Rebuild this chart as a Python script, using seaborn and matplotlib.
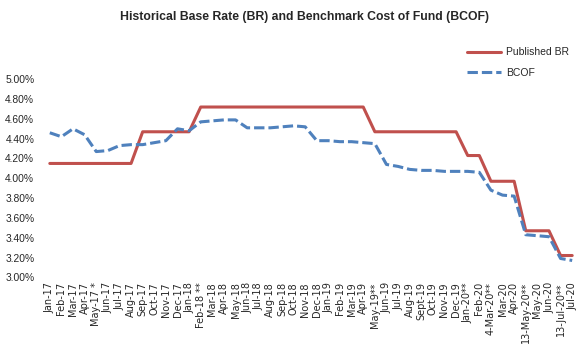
import numpy as np
import pandas as pd
import matplotlib
matplotlib.use("Agg")
import matplotlib.pyplot as plt
import seaborn as sns
from matplotlib.ticker import FuncFormatter

months = ["Jan-17", "Feb-17", "Mar-17", "Apr-17", "May-17 *", "Jun-17", "Jul-17",
          "Aug-17", "Sep-17", "Oct-17", "Nov-17", "Dec-17", "Jan-18", "Feb-18 **",
          "Mar-18", "Apr-18", "May-18", "Jun-18", "Jul-18", "Aug-18", "Sep-18",
          "Oct-18", "Nov-18", "Dec-18", "Jan-19", "Feb-19", "Mar-19", "Apr-19",
          "May-19**", "Jun-19", "Jul-19", "Aug-19", "Sept-19", "Oct-19", "Nov-19",
          "Dec-19", "Jan-20**", "Feb-20", "4-Mar-20**", "Mar-20", "Apr-20",
          "13-May-20**", "May-20", "Jun-20", "13-Jul-20**", "Jul-20"]

published_br = [4.15, 4.15, 4.15, 4.15, 4.15, 4.15, 4.15, 4.15,
                4.47, 4.47, 4.47, 4.47, 4.47,
                4.72, 4.72, 4.72, 4.72, 4.72, 4.72, 4.72, 4.72, 4.72, 4.72,
                4.72, 4.72, 4.72, 4.72, 4.72,
                4.47, 4.47, 4.47, 4.47, 4.47, 4.47, 4.47, 4.47,
                4.23, 4.23,
                3.97, 3.97, 3.97,
                3.47, 3.47, 3.47,
                3.22, 3.22]

bcof = [4.46, 4.42, 4.50, 4.44, 4.27, 4.28, 4.33, 4.34, 4.34, 4.36, 4.38,
        4.50, 4.48, 4.57, 4.58, 4.59, 4.59, 4.51, 4.51, 4.51, 4.52, 4.53,
        4.52, 4.38, 4.38, 4.37, 4.37, 4.36, 4.35, 4.14, 4.12, 4.09, 4.08,
        4.08, 4.07, 4.07, 4.07, 4.06, 3.88, 3.83, 3.82, 3.43, 3.42, 3.41,
        3.19, 3.17]

series_names = ["Published BR", "BCOF"]
yticks = np.arange(3.0, 5.001, 0.2)

df = pd.DataFrame({
    "pos": list(range(len(months))) * 2,
    "rate": published_br + bcof,
    "series": [series_names[0]] * len(months) + [series_names[1]] * len(months),
})

sns.set_style("white")
plt.rcParams["font.family"] = ["Liberation Sans", "DejaVu Sans"]

fig = plt.figure(figsize=(5.8, 3.48), dpi=100)
ax = fig.add_axes([44 / 580, 1 - 277.3 / 348, 534 / 580, 198 / 348])

sns.lineplot(data=df, x="pos", y="rate", hue="series", style="series",
             hue_order=series_names, style_order=series_names,
             palette={"Published BR": "#C0504D", "BCOF": "#4F81BD"},
             dashes={"Published BR": "", "BCOF": (3.4, 1.3)},
             linewidth=2.2, ax=ax, legend=True)

ax.set_xlim(-0.5, len(months) - 0.5)
ax.set_ylim(3.0, 5.0)
ax.set_yticks(yticks)
ax.yaxis.set_major_formatter(FuncFormatter(lambda v, _: f"{v:.2f}%"))
ax.set_xticks(range(len(months)))
ax.set_xticklabels(months, rotation=90, fontsize=7, family="DejaVu Sans")
ax.tick_params(axis="y", labelsize=7.4, length=0, pad=7)
ax.tick_params(axis="x", length=0, pad=3.5)
ax.set_xlabel("")
ax.set_ylabel("")
for s in ax.spines.values():
    s.set_visible(False)

handles, labels = ax.get_legend_handles_labels()
ax.legend(handles, labels, loc="upper left", frameon=False, fontsize=7.5,
          bbox_to_anchor=(463 / 580, 1 - 43 / 348), bbox_transform=fig.transFigure,
          handlelength=3.2, handletextpad=0.5, labelspacing=1.0, borderaxespad=0)

fig.text(305 / 580, 1 - 17 / 348,
         "Historical Base Rate (BR) and Benchmark Cost of Fund (BCOF)",
         ha="center", va="center", fontsize=8.8, fontweight="bold")

fig.savefig("out.png", dpi=100)
